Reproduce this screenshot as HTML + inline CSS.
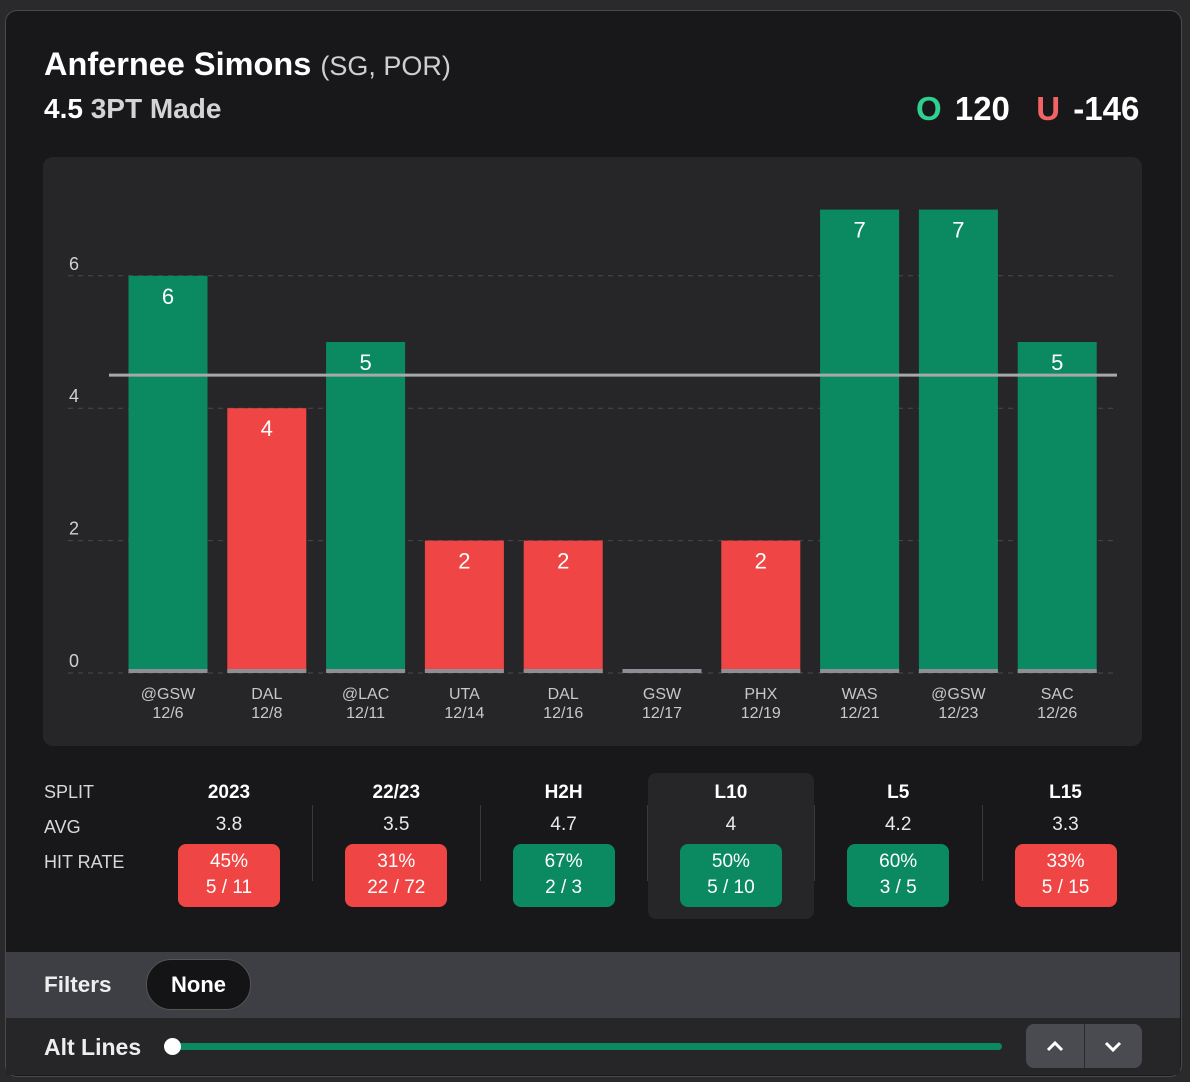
<!DOCTYPE html>
<html><head><meta charset="utf-8">
<style>
body{margin:0;width:1190px;height:1082px;background:#2a2a2c;font-family:"Liberation Sans",sans-serif;position:relative;overflow:hidden}
.card{position:absolute;left:5px;top:10px;width:1175px;height:1065px;background:#18181a;border:1px solid #4a4a4e;border-radius:12px;overflow:hidden}
.abs{position:absolute}
.t{color:#fff;font-weight:bold}
.col{position:absolute;width:140px;text-align:center;color:#fff}
.hd{top:782px;font-weight:bold;font-size:19px}
.avg{top:814px;font-size:19px;color:#e8e8e8}
.box{position:absolute;top:844px;width:102px;height:63px;border-radius:8px;color:#fff;text-align:center;font-size:19px;line-height:26px;padding-top:5px;box-sizing:border-box}
.g{background:#0b8a62}.r{background:#ef4545}
.sep{position:absolute;top:805px;width:1px;height:76px;background:#3a3a3e}
.lbl{position:absolute;left:44px;font-size:18px;color:#d8d8d8}
</style></head><body>
<div class="card"></div>
<div class="abs t" style="left:44px;top:46px;font-size:32.5px;white-space:nowrap">Anfernee Simons <span style="font-weight:normal;font-size:27px;color:#cfcfcf">(SG, POR)</span></div>
<div class="abs t" style="left:44px;top:93px;font-size:28px">4.5 <span style="color:#d4d4d4">3PT Made</span></div>
<div class="abs t" style="left:916px;top:90px;font-size:33px;white-space:nowrap;word-spacing:4px"><span style="color:#2ecf8f">O</span> 120&nbsp; <span style="color:#f26464">U</span> -146</div>
<div class="abs" style="left:43px;top:157px;width:1099px;height:589px;background:#262628;border-radius:10px"></div>
<svg id="chart" class="abs" style="left:0;top:0" width="1190" height="760"></svg>

<div class="abs" style="left:648px;top:773px;width:166px;height:146px;background:#262628;border-radius:8px"></div>
<div class="lbl" style="top:782px">SPLIT</div>
<div class="lbl" style="top:817px">AVG</div>
<div class="lbl" style="top:852px">HIT RATE</div>
<div id="splits"></div>

<div class="abs" style="left:6px;top:952px;width:1174px;height:66px;background:#3e3f44"></div>
<div class="abs t" style="left:44px;top:972px;font-size:22.5px;color:#eee">Filters</div>
<div class="abs t" style="left:146px;top:959px;width:105px;height:51px;border-radius:25px;background:#141416;border:1px solid #555;box-sizing:border-box;text-align:center;line-height:49px;font-size:22px">None</div>
<div class="abs" style="left:6px;top:1018px;width:1174px;height:57px;background:#262628"></div>
<div class="abs t" style="left:44px;top:1034px;font-size:23px;color:#eee">Alt Lines</div>
<div class="abs" style="left:172px;top:1043px;width:830px;height:7px;background:#0b8a62;border-radius:4px"></div>
<div class="abs" style="left:164px;top:1038px;width:17px;height:17px;background:#fff;border-radius:50%"></div>
<div class="abs" style="left:1026px;top:1024px;width:116px;height:44px;background:#4a4b50;border-radius:8px"></div>
<div class="abs" style="left:1084px;top:1024px;width:1px;height:44px;background:#2a2a2e"></div>
<svg class="abs" style="left:1026px;top:1024px" width="116" height="44">
<polyline points="22,26 29,19 36,26" fill="none" stroke="#fff" stroke-width="3"/>
<polyline points="80,19 87,26 94,19" fill="none" stroke="#fff" stroke-width="3"/>
</svg>

<script>
const games=["@GSW","DAL","@LAC","UTA","DAL","GSW","PHX","WAS","@GSW","SAC"];
const dates=["12/6","12/8","12/11","12/14","12/16","12/17","12/19","12/21","12/23","12/26"];
const values=[6,4,5,2,2,0,2,7,7,5];
const yTicks=[0,2,4,6];
const line=4.5;
const NS="http://www.w3.org/2000/svg";
const svg=document.getElementById('chart');
const y=v=>673-v*66.2;
const xc=i=>168+i*98.8;
function mk(tag,a,txt){const e=document.createElementNS(NS,tag);for(const k in a)e.setAttribute(k,a[k]);if(txt!==undefined)e.textContent=txt;svg.appendChild(e);return e;}
yTicks.forEach(t=>{
 const g=mk('line',{x1:68,x2:1117,y1:y(t),y2:y(t),stroke:'#4a4a4e','stroke-dasharray':'5,5'});
 
 
 const l=mk('text',{x:74,y:y(t)-6,fill:'#d0d0d0','font-size':18,'text-anchor':'middle','font-family':'Liberation Sans'},t);
 
 
});
values.forEach((v,i)=>{
 const top=y(v),col=v>line?'#0b8a62':'#ef4545';
 if(v>0){const b=mk('rect',{x:xc(i)-39.5,y:top,width:79,height:673-top,fill:col});
 
 
 const t=mk('text',{x:xc(i),y:top+28,fill:'#fff','font-size':22,'text-anchor':'middle','font-family':'Liberation Sans'},v);
 
 }
 const s=mk('rect',{x:xc(i)-39.5,y:669,width:79,height:4,fill:'#8e8e96'});
 
 
 const g=mk('text',{x:xc(i),y:699,fill:'#c8c8c8','font-size':16,'text-anchor':'middle','font-family':'Liberation Sans'},games[i]);
 
 
 const d=mk('text',{x:xc(i),y:718,fill:'#c8c8c8','font-size':16,'text-anchor':'middle','font-family':'Liberation Sans'},dates[i]);
 
 
});
const ln=mk('line',{x1:109,x2:1117,y1:y(line),y2:y(line),stroke:'#a8a8ac','stroke-width':3});



const splits=["2023","22/23","H2H","L10","L5","L15"];
const avgs=["3.8","3.5","4.7","4","4.2","3.3"];
const pcts=["45%","31%","67%","50%","60%","33%"];
const fracs=["5 / 11","22 / 72","2 / 3","5 / 10","3 / 5","5 / 15"];
const host=document.getElementById('splits');
splits.forEach((s,i)=>{
 const cx=229+i*167.3;
 const h=document.createElement('div');h.className='col hd';h.style.left=(cx-70)+'px';h.textContent=s;
 
 
 host.appendChild(h);
 const a=document.createElement('div');a.className='col avg';a.style.left=(cx-70)+'px';a.textContent=avgs[i];
 
 
 host.appendChild(a);
 const b=document.createElement('div');b.className='box '+(parseInt(pcts[i])>=50?'g':'r');b.style.left=(cx-51)+'px';
 b.innerHTML=pcts[i]+'<br>'+fracs[i];
 
 
 host.appendChild(b);
 if(i>0){const sp=document.createElement('div');sp.className='sep';sp.style.left=(cx-84)+'px';
 
 
 host.appendChild(sp);}
});
</script>
</body></html>
